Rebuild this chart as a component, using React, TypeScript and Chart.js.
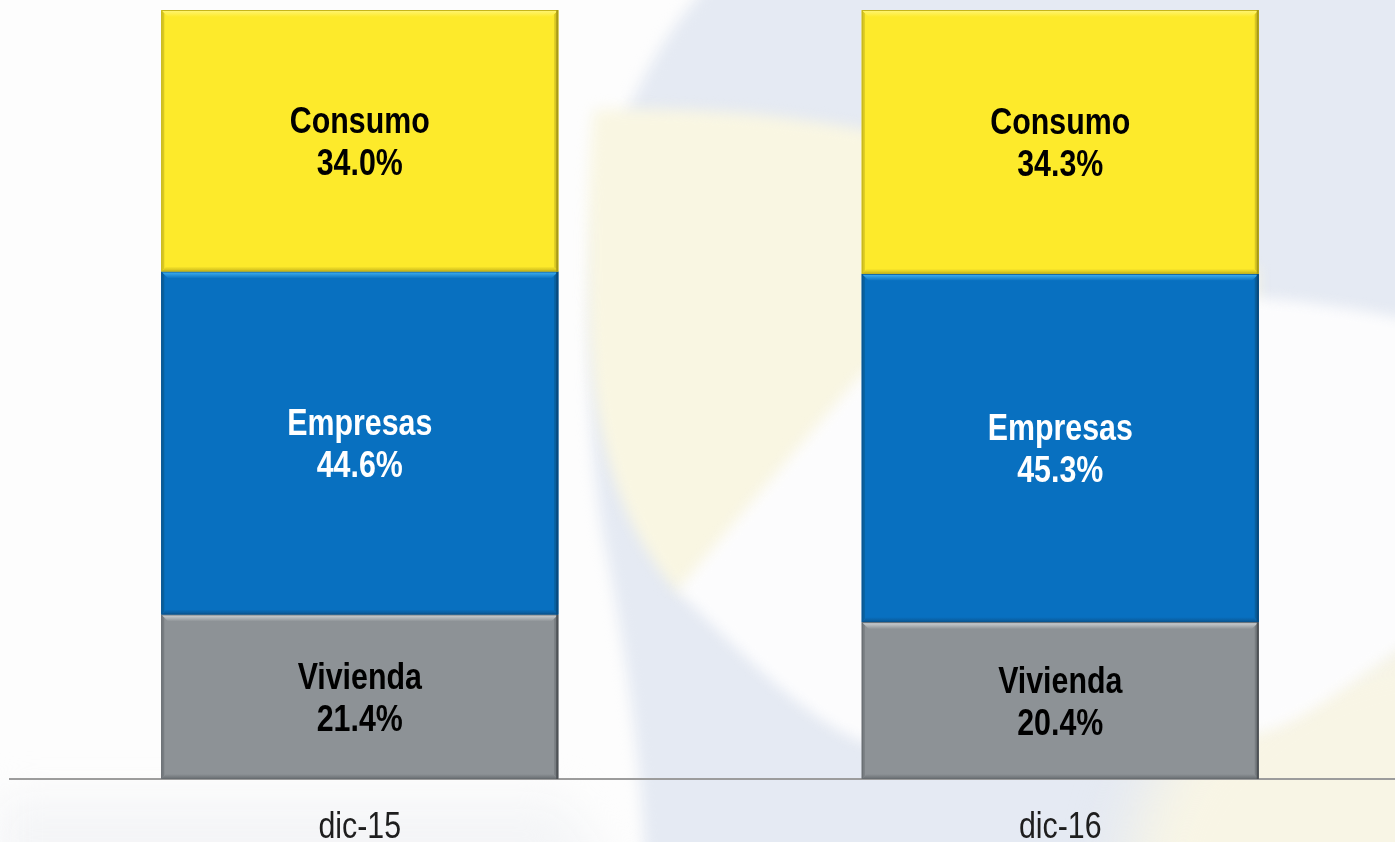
import React, { useEffect, useRef } from "react";
import { Chart, registerables } from "chart.js";

Chart.register(...registerables);

// ---- data ----
const categories = ["dic-15", "dic-16"];
const seriesNames = ["Vivienda", "Empresas", "Consumo"];
const vivienda = [21.4, 20.4];
const empresas = [44.6, 45.3];
const consumo = [34.0, 34.3];

// ---- styles ----
const fills = ["#8D9296", "#0870C0", "#FDEA2B"];
const bevelLight = ["#D3D7D9", "#45B6F5", "#FFF578"];
const bevelDark = ["#686D71", "#0A5692", "#C6B51B"];
const sideDark = ["#787D81", "#09609D", "#D8C722"];
const edgeDark = ["#4E5256", "#084A7E", "#A89A17"];
const labelColors = ["#000000", "#FFFFFF", "#000000"];

function narrowInfo(ctx: CanvasRenderingContext2D) {
  ctx.save();
  ctx.font = 'bold 37px "Liberation Sans Narrow", "Liberation Sans"';
  const w1 = ctx.measureText("Consumo").width;
  ctx.font = 'bold 37px "Liberation Sans"';
  const w2 = ctx.measureText("Consumo").width;
  ctx.restore();
  if (w1 < w2 * 0.95) return { family: '"Liberation Sans Narrow"', sx: 1 };
  return { family: '"Liberation Sans", Arial', sx: 0.82 };
}

function drawText(
  ctx: CanvasRenderingContext2D,
  text: string,
  x: number,
  y: number,
  font: string,
  color: string,
  sx: number,
  baseline: CanvasTextBaseline
) {
  ctx.save();
  ctx.translate(x, y);
  ctx.scale(sx, 1);
  ctx.font = font;
  ctx.fillStyle = color;
  ctx.textAlign = "center";
  ctx.textBaseline = baseline;
  ctx.fillText(text, 0, 0);
  ctx.restore();
}

const backgroundPlugin = {
  id: "bgShapes",
  beforeDraw(chart: any) {
    const ctx: CanvasRenderingContext2D = chart.ctx;
    const W = chart.width;
    const H = chart.height;
    ctx.save();
    ctx.fillStyle = "#FDFDFD";
    ctx.fillRect(0, 0, W, H);
    ctx.filter = "blur(7px)";
    // blue-grey big shape
    ctx.beginPath();
    ctx.moveTo(712, -20);
    ctx.bezierCurveTo(665, 30, 618, 110, 600, 200);
    ctx.bezierCurveTo(585, 300, 585, 450, 608, 560);
    ctx.bezierCurveTo(625, 650, 640, 750, 645, H + 20);
    ctx.lineTo(W + 20, H + 20);
    ctx.lineTo(W + 20, -20);
    ctx.closePath();
    ctx.fillStyle = "#E5EAF3";
    ctx.fill();
    // pale yellow lens
    ctx.beginPath();
    ctx.moveTo(594, 110);
    ctx.bezierCurveTo(760, 104, 1000, 130, 1258, 270);
    ctx.lineTo(1258, 600);
    ctx.lineTo(677, 591);
    ctx.bezierCurveTo(615, 520, 590, 420, 589, 300);
    ctx.bezierCurveTo(588, 200, 590, 140, 594, 110);
    ctx.closePath();
    ctx.fillStyle = "#F9F6E2";
    ctx.fill();
    // warm tint bottom right
    ctx.filter = "blur(30px)";
    ctx.beginPath();
    ctx.ellipse(1460, 880, 330, 260, 0, 0, Math.PI * 2);
    ctx.fillStyle = "#F8F5E5";
    ctx.fill();
    ctx.filter = "blur(7px)";
    // white lens
    ctx.beginPath();
    ctx.moveTo(677, 591);
    ctx.bezierCurveTo(740, 515, 800, 445, 860, 376);
    ctx.bezierCurveTo(960, 290, 1200, 270, W + 20, 325);
    ctx.lineTo(W + 20, 625);
    ctx.bezierCurveTo(1340, 690, 1300, 725, 1258, 733);
    ctx.bezierCurveTo(1150, 760, 960, 770, 860, 741);
    ctx.bezierCurveTo(800, 715, 740, 650, 677, 591);
    ctx.closePath();
    ctx.fillStyle = "#FCFCFD";
    ctx.fill();
    // faint grey under axis on the left
    ctx.filter = "blur(20px)";
    ctx.beginPath();
    ctx.moveTo(0, 800);
    ctx.lineTo(560, 800);
    ctx.lineTo(620, H + 40);
    ctx.lineTo(0, H + 40);
    ctx.closePath();
    ctx.fillStyle = "#F4F5F7";
    ctx.fill();
    ctx.restore();
  },
};

const bevelPlugin = {
  id: "bevelBars",
  afterDatasetsDraw(chart: any) {
    const ctx: CanvasRenderingContext2D = chart.ctx;
    const info = narrowInfo(ctx);
    chart.data.datasets.forEach((ds: any, di: number) => {
      const meta = chart.getDatasetMeta(di);
      meta.data.forEach((el: any, i: number) => {
        const p = el.getProps(["x", "y", "base", "width"], true);
        const L = p.x - p.width / 2;
        const R = p.x + p.width / 2;
        const T = Math.min(p.y, p.base);
        const B = Math.max(p.y, p.base);
        const tb = 7;
        const bb = 5;
        const sb = 3;
        ctx.save();
        // left / right sides
        ctx.fillStyle = sideDark[di];
        ctx.beginPath();
        ctx.moveTo(L, T);
        ctx.lineTo(L + sb, T + sb);
        ctx.lineTo(L + sb, B - sb);
        ctx.lineTo(L, B);
        ctx.closePath();
        ctx.fill();
        ctx.beginPath();
        ctx.moveTo(R, T);
        ctx.lineTo(R - sb - 1, T + sb + 1);
        ctx.lineTo(R - sb - 1, B - sb - 1);
        ctx.lineTo(R, B);
        ctx.closePath();
        ctx.fill();
        // top bevel
        const g = ctx.createLinearGradient(0, T, 0, T + tb);
        g.addColorStop(0, bevelLight[di]);
        g.addColorStop(1, fills[di]);
        ctx.fillStyle = g;
        ctx.beginPath();
        ctx.moveTo(L, T);
        ctx.lineTo(R, T);
        ctx.lineTo(R - tb, T + tb);
        ctx.lineTo(L + tb, T + tb);
        ctx.closePath();
        ctx.fill();
        // bottom bevel
        const g2 = ctx.createLinearGradient(0, B - bb, 0, B);
        g2.addColorStop(0, fills[di]);
        g2.addColorStop(1, bevelDark[di]);
        ctx.fillStyle = g2;
        ctx.beginPath();
        ctx.moveTo(L, B);
        ctx.lineTo(R, B);
        ctx.lineTo(R - bb, B - bb);
        ctx.lineTo(L + bb, B - bb);
        ctx.closePath();
        ctx.fill();
        // thin outline + darker right edge
        ctx.strokeStyle = bevelDark[di];
        ctx.lineWidth = 1;
        ctx.strokeRect(L + 0.5, T + 0.5, R - L - 1, B - T - 1);
        ctx.fillStyle = edgeDark[di];
        ctx.fillRect(R - 2, T, 2, B - T);
        ctx.restore();

        // labels
        const cy = (T + B) / 2;
        const v = ds.data[i] as number;
        const font = `bold 37px ${info.family}`;
        drawText(ctx, ds.label, p.x, cy - 18, font, labelColors[di], info.sx, "middle");
        drawText(ctx, v.toFixed(1) + "%", p.x, cy + 24, font, labelColors[di], info.sx, "middle");
      });
    });
  },
  afterDraw(chart: any) {
    const ctx: CanvasRenderingContext2D = chart.ctx;
    const info = narrowInfo(ctx);
    const xs = chart.scales.x;
    const bottom = chart.chartArea.bottom;
    categories.forEach((c, i) => {
      drawText(ctx, c, xs.getPixelForValue(i), bottom + 59, `37px ${info.family}`, "#1E1E1E", info.sx, "alphabetic");
    });
  },
};

export default function App() {
  const ref = useRef<HTMLCanvasElement | null>(null);
  useEffect(() => {
    if (!ref.current) return;
    const series = [vivienda, empresas, consumo];
    const chart = new Chart(ref.current, {
      type: "bar",
      data: {
        labels: categories,
        datasets: series.map((d, i) => ({
          label: seriesNames[i],
          data: d,
          backgroundColor: fills[i],
          borderWidth: 0,
          categoryPercentage: 1,
          barPercentage: 0.5667,
        })),
      },
      options: {
        animation: false,
        responsive: true,
        maintainAspectRatio: false,
        layout: { padding: { left: 9.5, right: 1.5, top: 10, bottom: 63 } },
        plugins: {
          legend: { display: false },
          tooltip: { enabled: false },
          title: { display: false },
        },
        scales: {
          x: {
            stacked: true,
            grid: { display: false, drawTicks: false },
            border: { display: true, color: "#9C9C9C", width: 2 },
            ticks: { display: false },
          },
          y: {
            stacked: true,
            min: 0,
            max: 100,
            display: false,
          },
        },
      },
      plugins: [backgroundPlugin, bevelPlugin],
    });
    return () => chart.destroy();
  }, []);
  return (
    <div style={{ position: "absolute", left: 0, top: 0, width: 1395, height: 842, overflow: "hidden" }}>
      <div style={{ position: "relative", width: 1412, height: 842 }}>
        <canvas ref={ref} />
      </div>
    </div>
  );
}
